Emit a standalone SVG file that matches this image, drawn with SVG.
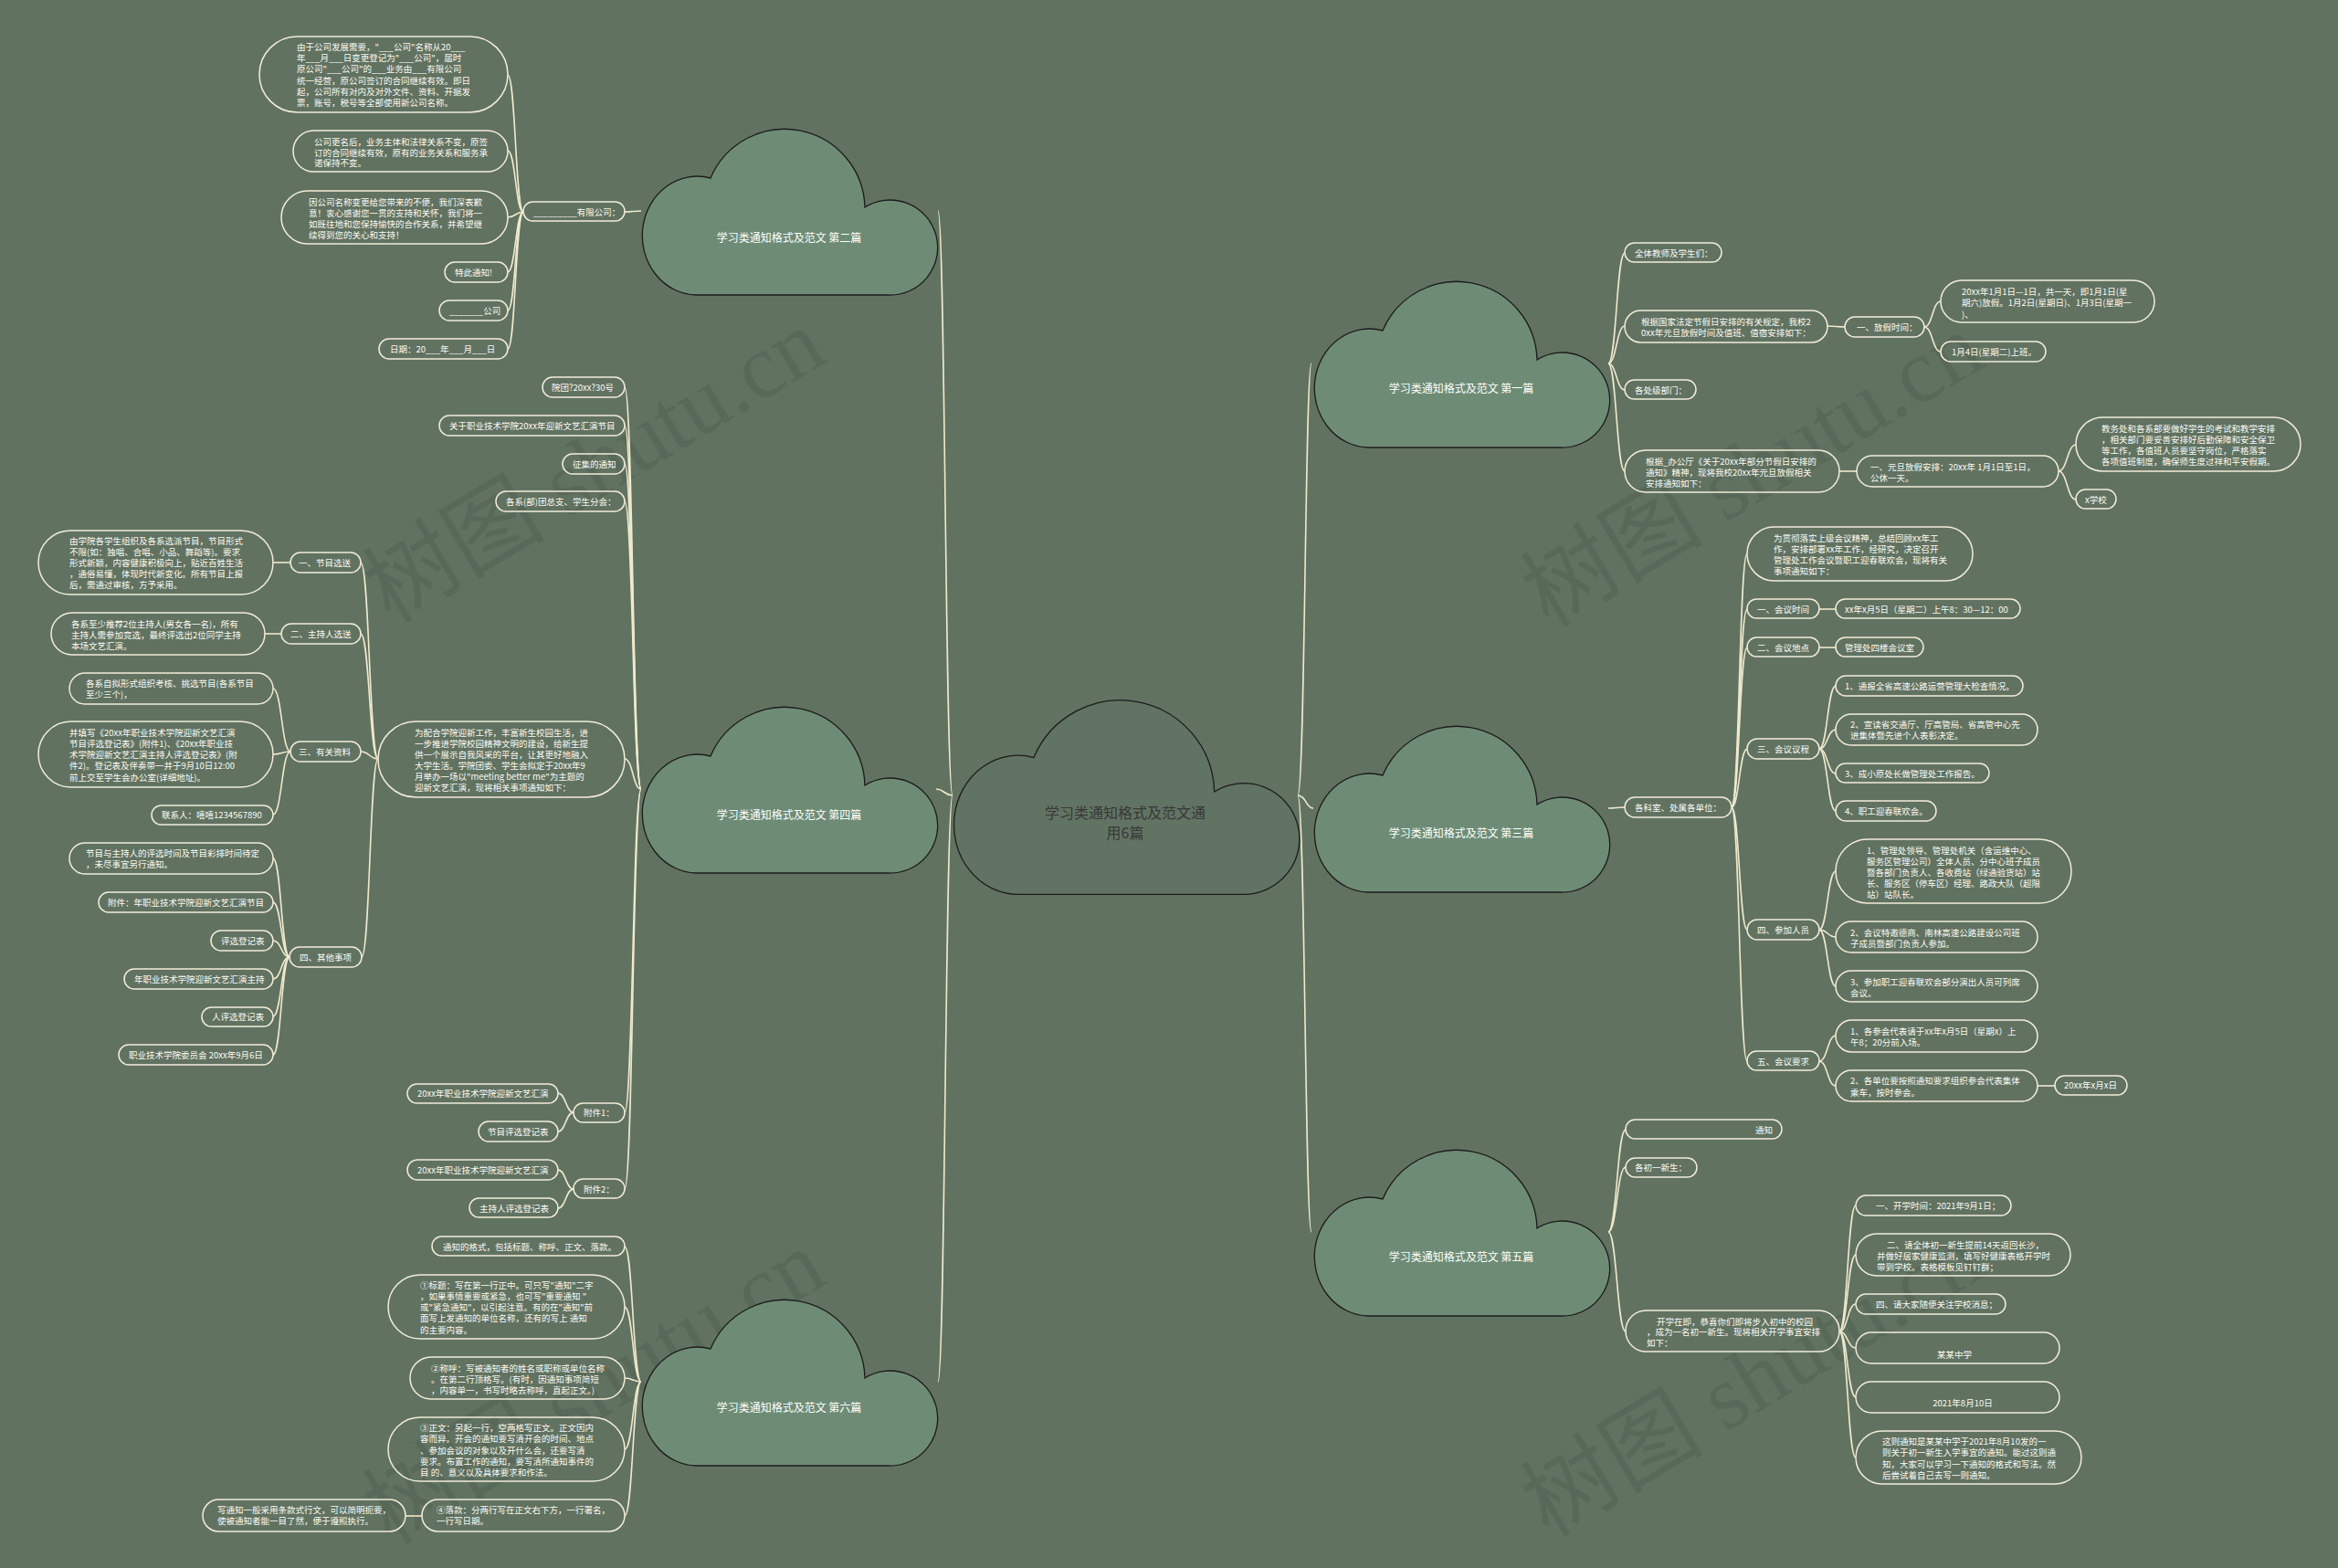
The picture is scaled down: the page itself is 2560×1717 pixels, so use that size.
<svg xmlns="http://www.w3.org/2000/svg" width="2560" height="1717" viewBox="0 0 2560 1717">
<defs>
<style>
.bg{fill:#617261}
.cl{fill:#6e8c75;stroke:#1c1c1c;stroke-width:1.3}
.cc{fill:#617362;stroke:#1c1c1c;stroke-width:1.1}
.ct{font-family:"Noto Sans CJK SC",sans-serif;font-size:12px;fill:#ffffff;text-anchor:middle}
.mt{font-family:"Noto Sans CJK SC",sans-serif;font-size:16px;fill:#383838;text-anchor:middle}
.n{fill:none;stroke:#f1edd9;stroke-width:1.5}
.t{font-family:"Noto Sans CJK SC",sans-serif;font-size:9.5px;fill:#fbfaf3}
.tm{text-anchor:middle}
.e{fill:none;stroke:#efe9cd;stroke-width:1.6}
.wm{font-family:"Liberation Serif","Noto Sans CJK SC",serif;font-size:100px;fill:#000000;fill-opacity:0.08;text-anchor:middle}
</style>
<path id="cloud" d="M60 184A60 65 0 1 1 76 56A88 88 0 0 1 245 88A52 52 0 1 1 271 184Z"/>
</defs>
<rect class="bg" x="0" y="0" width="2560" height="1717"/>

<g id="watermarks">
<text class="wm" transform="translate(650 509) rotate(-31)" y="35">树图 shutu.cn</text>
<text class="wm" transform="translate(1918 514) rotate(-31)" y="35">树图 shutu.cn</text>
<text class="wm" transform="translate(650 1518) rotate(-31)" y="35">树图 shutu.cn</text>
<text class="wm" transform="translate(1918 1510) rotate(-31)" y="35">树图 shutu.cn</text>
</g>

<g id="connectors">
<path class="e" d="M1043 871C1035 871 1035 231 1027 231"/>
<path class="e" d="M1043 871C1034 871 1034 864 1025 864"/>
<path class="e" d="M1043 871C1035 871 1035 1513 1027 1513"/>
<path class="e" d="M1421 871C1429 871 1429 398 1436 398"/>
<path class="e" d="M1421 871C1430 871 1430 885 1438 885"/>
<path class="e" d="M1421 871C1429 871 1429 1349 1436 1349"/>

<path class="e" d="M702 231C693 231 693 232 684 232"/>
<path class="e" d="M573 232C564.5 232 564.5 82 556 82"/>
<path class="e" d="M573 232C564.5 232 564.5 165 556 165"/>
<path class="e" d="M573 232C564.5 232 564.5 238 556 238"/>
<path class="e" d="M573 232C564.5 232 564.5 298 556 298"/>
<path class="e" d="M573 232C564.5 232 564.5 340 556 340"/>
<path class="e" d="M573 232C564.5 232 564.5 382 556 382"/>

<path class="e" d="M702 864C693 864 693 424 684 424"/>
<path class="e" d="M702 864C693 864 693 466 684 466"/>
<path class="e" d="M702 864C693 864 693 508 684 508"/>
<path class="e" d="M702 864C693 864 693 549 684 549"/>
<path class="e" d="M702 864C693 864 693 831 684 831"/>
<path class="e" d="M702 864C693 864 693 1218 684 1218"/>
<path class="e" d="M702 864C693 864 693 1302 684 1302"/>
<path class="e" d="M414 831C404.5 831 404.5 616 395 616"/>
<path class="e" d="M414 831C404.5 831 404.5 694 395 694"/>
<path class="e" d="M414 831C404.5 831 404.5 823 395 823"/>
<path class="e" d="M414 831C405 831 405 1048 396 1048"/>
<path class="e" d="M318 616C308.5 616 308.5 616 299 616"/>
<path class="e" d="M308 694C299 694 299 694 290 694"/>
<path class="e" d="M318 823C308.5 823 308.5 754 299 754"/>
<path class="e" d="M318 823C308.5 823 308.5 826 299 826"/>
<path class="e" d="M318 823C308.5 823 308.5 892 299 892"/>
<path class="e" d="M317 1048C308 1048 308 940 299 940"/>
<path class="e" d="M317 1048C308 1048 308 988 299 988"/>
<path class="e" d="M317 1048C308 1048 308 1030 299 1030"/>
<path class="e" d="M317 1048C308 1048 308 1072 299 1072"/>
<path class="e" d="M317 1048C308 1048 308 1113 299 1113"/>
<path class="e" d="M317 1048C308 1048 308 1155 299 1155"/>
<path class="e" d="M628 1218C619.5 1218 619.5 1197 611 1197"/>
<path class="e" d="M628 1218C619.5 1218 619.5 1239 611 1239"/>
<path class="e" d="M628 1302C619.5 1302 619.5 1281 611 1281"/>
<path class="e" d="M628 1302C619.5 1302 619.5 1323 611 1323"/>

<path class="e" d="M702 1513C693 1513 693 1365 684 1365"/>
<path class="e" d="M702 1513C693 1513 693 1431 684 1431"/>
<path class="e" d="M702 1513C693 1513 693 1509 684 1509"/>
<path class="e" d="M702 1513C693 1513 693 1587 684 1587"/>
<path class="e" d="M702 1513C693 1513 693 1660 684 1660"/>
<path class="e" d="M462 1660C453 1660 453 1660 444 1660"/>

<path class="e" d="M1761 398C1770 398 1770 277 1779 277"/>
<path class="e" d="M1761 398C1770 398 1770 357 1779 357"/>
<path class="e" d="M1761 398C1770 398 1770 427 1779 427"/>
<path class="e" d="M1761 398C1770 398 1770 516 1779 516"/>
<path class="e" d="M2001 357C2010.5 357 2010.5 358 2020 358"/>
<path class="e" d="M2107 358C2116 358 2116 330 2125 330"/>
<path class="e" d="M2107 358C2116 358 2116 385 2125 385"/>
<path class="e" d="M2014 516C2023.5 516 2023.5 516 2033 516"/>
<path class="e" d="M2254 516C2263.5 516 2263.5 487 2273 487"/>
<path class="e" d="M2254 516C2263.5 516 2263.5 547 2273 547"/>

<path class="e" d="M1761 885C1770 885 1770 884 1779 884"/>
<path class="e" d="M1896 884C1904.5 884 1904.5 606 1913 606"/>
<path class="e" d="M1896 884C1904.5 884 1904.5 667 1913 667"/>
<path class="e" d="M1896 884C1904.5 884 1904.5 709 1913 709"/>
<path class="e" d="M1896 884C1904.5 884 1904.5 820 1913 820"/>
<path class="e" d="M1896 884C1904.5 884 1904.5 1018 1913 1018"/>
<path class="e" d="M1896 884C1904.5 884 1904.5 1162 1913 1162"/>
<path class="e" d="M1992 667C2001 667 2001 667 2010 667"/>
<path class="e" d="M1992 709C2001 709 2001 709 2010 709"/>
<path class="e" d="M1992 820C2001 820 2001 751 2010 751"/>
<path class="e" d="M1992 820C2001 820 2001 799 2010 799"/>
<path class="e" d="M1992 820C2001 820 2001 847 2010 847"/>
<path class="e" d="M1992 820C2001 820 2001 888 2010 888"/>
<path class="e" d="M1992 1018C2001 1018 2001 954 2010 954"/>
<path class="e" d="M1992 1018C2001 1018 2001 1026 2010 1026"/>
<path class="e" d="M1992 1018C2001 1018 2001 1080 2010 1080"/>
<path class="e" d="M1992 1162C2001 1162 2001 1134 2010 1134"/>
<path class="e" d="M1992 1162C2001 1162 2001 1189 2010 1189"/>
<path class="e" d="M2231 1189C2240.5 1189 2240.5 1189 2250 1189"/>

<path class="e" d="M1761 1349C1770.5 1349 1770.5 1237 1780 1237"/>
<path class="e" d="M1761 1349C1770.5 1349 1770.5 1278 1780 1278"/>
<path class="e" d="M1761 1349C1770.5 1349 1770.5 1458 1780 1458"/>
<path class="e" d="M2014 1458C2023 1458 2023 1320 2032 1320"/>
<path class="e" d="M2014 1458C2023 1458 2023 1374 2032 1374"/>
<path class="e" d="M2014 1458C2023 1458 2023 1428 2032 1428"/>
<path class="e" d="M2014 1458C2023 1458 2023 1476 2032 1476"/>
<path class="e" d="M2014 1458C2023 1458 2023 1530 2032 1530"/>
<path class="e" d="M2014 1458C2023 1458 2023 1596 2032 1596"/>
</g>

<g id="center">
<use href="#cloud" class="cc" transform="translate(1043 764) scale(1.17)"/>
<text class="mt" x="1232" y="896">学习类通知格式及范文通</text>
<text class="mt" x="1232" y="918">用6篇</text>
</g>

<g id="cloud-2"><use href="#cloud" class="cl" transform="translate(702 139)"/><text class="ct" x="864" y="265">学习类通知格式及范文 第二篇</text></g>
<g id="cloud-4"><use href="#cloud" class="cl" transform="translate(702 772)"/><text class="ct" x="864" y="897">学习类通知格式及范文 第四篇</text></g>
<g id="cloud-6"><use href="#cloud" class="cl" transform="translate(702 1421)"/><text class="ct" x="864" y="1546">学习类通知格式及范文 第六篇</text></g>
<g id="cloud-1"><use href="#cloud" class="cl" transform="translate(1438 306)"/><text class="ct" x="1600" y="430">学习类通知格式及范文 第一篇</text></g>
<g id="cloud-3"><use href="#cloud" class="cl" transform="translate(1438 793)"/><text class="ct" x="1600" y="917">学习类通知格式及范文 第三篇</text></g>
<g id="cloud-5"><use href="#cloud" class="cl" transform="translate(1438 1257)"/><text class="ct" x="1600" y="1381">学习类通知格式及范文 第五篇</text></g>

<!-- 第二篇 -->
<g id="l2-0"><rect class="n" x="573" y="221" width="111" height="21" rx="10.5"/><text class="t" x="584" y="235.5">_________有限公司：</text></g>
<g id="l2-1"><rect class="n" x="284" y="40" width="272" height="83" rx="41.5"/><text class="t"><tspan x="325" y="55">由于公司发展需要，"___公司"名称从20___</tspan><tspan x="325" y="67.2">年___月___日变更登记为"___公司"，届时</tspan><tspan x="325" y="79.4">原公司"___公司"的___业务由___有限公司</tspan><tspan x="325" y="91.6">统一经营，原公司签订的合同继续有效。即日</tspan><tspan x="325" y="103.8">起，公司所有对内及对外文件、资料、开据发</tspan><tspan x="325" y="116">票，账号，税号等全部使用新公司名称。</tspan></text></g>
<g id="l2-2"><rect class="n" x="321" y="143" width="235" height="45" rx="22.5"/><text class="t"><tspan x="344" y="158.5">公司更名后，业务主体和法律关系不变，原签</tspan><tspan x="344" y="170.5">订的合同继续有效，原有的业务关系和服务承</tspan><tspan x="344" y="182">诺保持不变。</tspan></text></g>
<g id="l2-3"><rect class="n" x="308" y="209" width="248" height="58" rx="29"/><text class="t"><tspan x="338" y="224.5">因公司名称变更给您带来的不便，我们深表歉</tspan><tspan x="338" y="236.5">意！衷心感谢您一贯的支持和关怀，我们将一</tspan><tspan x="338" y="248.5">如既往地和您保持愉快的合作关系，并希望继</tspan><tspan x="338" y="260.5">续得到您的关心和支持！</tspan></text></g>
<g id="l2-4"><rect class="n" x="487" y="287" width="69" height="22" rx="11"/><text class="t" x="498" y="301.5">特此通知!</text></g>
<g id="l2-5"><rect class="n" x="481" y="329" width="75" height="22" rx="11"/><text class="t" x="492" y="343.5">_______公司</text></g>
<g id="l2-6"><rect class="n" x="415" y="371" width="141" height="22" rx="11"/><text class="t" x="427" y="385.5">日期：20___年___月___日</text></g>

<!-- 第四篇 -->
<g id="l4-a"><rect class="n" x="594" y="413" width="90" height="22" rx="11"/><text class="t" x="604" y="427.5">院团?20xx?30号</text></g>
<g id="l4-b"><rect class="n" x="481" y="455" width="203" height="22" rx="11"/><text class="t" x="492" y="469.5">关于职业技术学院20xx年迎新文艺汇演节目</text></g>
<g id="l4-c"><rect class="n" x="616" y="497" width="68" height="22" rx="11"/><text class="t" x="627" y="511.5">征集的通知</text></g>
<g id="l4-d"><rect class="n" x="543" y="538" width="141" height="22" rx="11"/><text class="t" x="554" y="552.5">各系(部)团总支、学生分会：</text></g>
<g id="l4-e"><rect class="n" x="414" y="790" width="270" height="83" rx="41.5"/><text class="t"><tspan x="454" y="805.5">为配合学院迎新工作，丰富新生校园生活，进</tspan><tspan x="454" y="817.5">一步推进学院校园精神文明的建设，给新生提</tspan><tspan x="454" y="829.5">供一个展示自我风采的平台，让其更好地融入</tspan><tspan x="454" y="841.5">大学生活。学院团委、学生会拟定于20xx年9</tspan><tspan x="454" y="853.5">月举办一场以"meeting better me"为主题的</tspan><tspan x="454" y="865.5">迎新文艺汇演，现将相关事项通知如下：</tspan></text></g>
<g id="l4-e1"><rect class="n" x="318" y="605" width="77" height="22" rx="11"/><text class="t" x="327" y="619.5">一、节目选送</text></g>
<g id="l4-e1a"><rect class="n" x="42" y="581" width="257" height="70" rx="35"/><text class="t"><tspan x="76" y="595.5">由学院各学生组织及各系选派节目，节目形式</tspan><tspan x="76" y="607.5">不限(如：独唱、合唱、小品、舞蹈等)。要求</tspan><tspan x="76" y="619.5">形式新颖，内容健康积极向上，贴近百姓生活</tspan><tspan x="76" y="631.5">，通俗易懂，体现时代新变化。所有节目上报</tspan><tspan x="76" y="643.5">后，需通过审核，方予采用。</tspan></text></g>
<g id="l4-e2"><rect class="n" x="308" y="683" width="87" height="22" rx="11"/><text class="t" x="318" y="697.5">二、主持人选送</text></g>
<g id="l4-e2a"><rect class="n" x="56" y="671" width="234" height="46" rx="23"/><text class="t"><tspan x="78" y="686.5">各系至少推荐2位主持人(男女各一名)，所有</tspan><tspan x="78" y="698.5">主持人需参加竞选，最终评选出2位同学主持</tspan><tspan x="78" y="710.5">本场文艺汇演。</tspan></text></g>
<g id="l4-e3"><rect class="n" x="318" y="812" width="77" height="22" rx="11"/><text class="t" x="327" y="826.5">三、有关资料</text></g>
<g id="l4-e3a"><rect class="n" x="76" y="737" width="223" height="34" rx="17"/><text class="t"><tspan x="94" y="751.5">各系自拟形式组织考核、挑选节目(各系节目</tspan><tspan x="94" y="764">至少三个)，</tspan></text></g>
<g id="l4-e3b"><rect class="n" x="42" y="790" width="257" height="72" rx="36"/><text class="t"><tspan x="76" y="805.5">并填写《20xx年职业技术学院迎新文艺汇演</tspan><tspan x="76" y="817.5">节目评选登记表》(附件1)、《20xx年职业技</tspan><tspan x="76" y="830">术学院迎新文艺汇演主持人评选登记表》(附</tspan><tspan x="76" y="842">件2)。登记表及伴奏带一并于9月10日12:00</tspan><tspan x="76" y="854.5">前上交至学生会办公室(详细地址)。</tspan></text></g>
<g id="l4-e3c"><rect class="n" x="166" y="882" width="133" height="21" rx="10.5"/><text class="t" x="177" y="895.5">联系人：嘻嘻1234567890</text></g>
<g id="l4-e4"><rect class="n" x="317" y="1037" width="79" height="22" rx="11"/><text class="t" x="328" y="1051.5">四、其他事项</text></g>
<g id="l4-e4a"><rect class="n" x="76" y="923" width="223" height="34" rx="17"/><text class="t"><tspan x="94" y="937.5">节目与主持人的评选时间及节目彩排时间待定</tspan><tspan x="94" y="950">，未尽事宜另行通知。</tspan></text></g>
<g id="l4-e4b"><rect class="n" x="108" y="977" width="191" height="22" rx="11"/><text class="t" x="118" y="991.5">附件：年职业技术学院迎新文艺汇演节目</text></g>
<g id="l4-e4c"><rect class="n" x="231" y="1019" width="68" height="22" rx="11"/><text class="t" x="242" y="1033.5">评选登记表</text></g>
<g id="l4-e4d"><rect class="n" x="136" y="1061" width="163" height="22" rx="11"/><text class="t" x="147" y="1075.5">年职业技术学院迎新文艺汇演主持</text></g>
<g id="l4-e4e"><rect class="n" x="221" y="1103" width="78" height="21" rx="10.5"/><text class="t" x="232" y="1116.5">人评选登记表</text></g>
<g id="l4-e4f"><rect class="n" x="130" y="1144" width="169" height="22" rx="11"/><text class="t" x="141" y="1158.5">职业技术学院委员会 20xx年9月6日</text></g>
<g id="l4-f"><rect class="n" x="628" y="1208" width="56" height="21" rx="10.5"/><text class="t" x="639" y="1221.5">附件1：</text></g>
<g id="l4-f1"><rect class="n" x="446" y="1187" width="165" height="21" rx="10.5"/><text class="t" x="457" y="1200.5">20xx年职业技术学院迎新文艺汇演</text></g>
<g id="l4-f2"><rect class="n" x="524" y="1228" width="87" height="22" rx="11"/><text class="t" x="534" y="1242.5">节目评选登记表</text></g>
<g id="l4-g"><rect class="n" x="628" y="1291" width="56" height="21" rx="10.5"/><text class="t" x="639" y="1305.5">附件2：</text></g>
<g id="l4-g1"><rect class="n" x="446" y="1270" width="165" height="22" rx="11"/><text class="t" x="457" y="1284.5">20xx年职业技术学院迎新文艺汇演</text></g>
<g id="l4-g2"><rect class="n" x="514" y="1312" width="97" height="21" rx="10.5"/><text class="t" x="525" y="1326.5">主持人评选登记表</text></g>

<!-- 第六篇 -->
<g id="l6-a"><rect class="n" x="473" y="1354" width="211" height="21" rx="10.5"/><text class="t" x="485" y="1368.5">通知的格式，包括标题、称呼、正文、落款。</text></g>
<g id="l6-b"><rect class="n" x="425" y="1396" width="259" height="70" rx="35"/><text class="t"><tspan x="460" y="1410.5">①标题：写在第一行正中。可只写"通知"二字</tspan><tspan x="460" y="1422.5">，如果事情重要或紧急，也可写"重要通知 "</tspan><tspan x="460" y="1434.5">或"紧急通知"，以引起注意。有的在"通知"前</tspan><tspan x="460" y="1447">面写上发通知的单位名称，还有的写上 通知</tspan><tspan x="460" y="1459.5">的主要内容。</tspan></text></g>
<g id="l6-c"><rect class="n" x="449" y="1486" width="235" height="46" rx="23"/><text class="t"><tspan x="472" y="1501.5">②称呼：写被通知者的姓名或职称或单位名称</tspan><tspan x="472" y="1513.5">。在第二行顶格写。(有时，因通知事项简短</tspan><tspan x="472" y="1525.5">，内容单一，书写时略去称呼，直起正文。)</tspan></text></g>
<g id="l6-d"><rect class="n" x="425" y="1552" width="259" height="70" rx="35"/><text class="t"><tspan x="460" y="1566.5">③正文：另起一行，空两格写正文。正文因内</tspan><tspan x="460" y="1579">容而异。开会的通知要写清开会的时间、地点</tspan><tspan x="460" y="1591.5">、参加会议的对象以及开什么会，还要写清</tspan><tspan x="460" y="1603.5">要求。布置工作的通知，要写清所通知事件的</tspan><tspan x="460" y="1615.5">目 的、意义以及具体要求和作法。</tspan></text></g>
<g id="l6-e"><rect class="n" x="462" y="1642" width="222" height="35" rx="17.5"/><text class="t"><tspan x="478" y="1656.5">④落款：分两行写在正文右下方，一行署名，</tspan><tspan x="478" y="1669">一行写日期。</tspan></text></g>
<g id="l6-e1"><rect class="n" x="222" y="1642" width="222" height="35" rx="17.5"/><text class="t"><tspan x="238" y="1656.5">写通知一般采用条款式行文，可以简明扼要，</tspan><tspan x="238" y="1669">使被通知者能一目了然，便于遵照执行。</tspan></text></g>

<!-- 第一篇 -->
<g id="r1-a"><rect class="n" x="1779" y="266" width="106" height="21" rx="10.5"/><text class="t" x="1790" y="280.5">全体教师及学生们：</text></g>
<g id="r1-b"><rect class="n" x="1779" y="340" width="222" height="35" rx="17.5"/><text class="t"><tspan x="1797" y="355.5">根据国家法定节假日安排的有关规定，我校2</tspan><tspan x="1797" y="367.5">0xx年元旦放假时间及值班、值宿安排如下：</tspan></text></g>
<g id="r1-b1"><rect class="n" x="2020" y="347" width="87" height="22" rx="11"/><text class="t" x="2033" y="361.5">一、放假时间：</text></g>
<g id="r1-b1a"><rect class="n" x="2125" y="307" width="234" height="46" rx="23"/><text class="t"><tspan x="2148" y="322.5">20xx年1月1日—1日，共一天，即1月1日(星</tspan><tspan x="2148" y="335">期六)放假。1月2日(星期日)、1月3日(星期一</tspan><tspan x="2148" y="347.5">)、</tspan></text></g>
<g id="r1-b1b"><rect class="n" x="2125" y="374" width="115" height="22" rx="11"/><text class="t" x="2137" y="388.5">1月4日(星期二)上班。</text></g>
<g id="r1-c"><rect class="n" x="1779" y="416" width="78" height="21" rx="10.5"/><text class="t" x="1790" y="430.5">各处级部门：</text></g>
<g id="r1-d"><rect class="n" x="1779" y="493" width="235" height="46" rx="23"/><text class="t"><tspan x="1802" y="508.5">根据_办公厅《关于20xx年部分节假日安排的</tspan><tspan x="1802" y="520.5">通知》精神，现将我校20xx年元旦放假相关</tspan><tspan x="1802" y="532.5">安排通知如下：</tspan></text></g>
<g id="r1-d1"><rect class="n" x="2033" y="499" width="221" height="34" rx="17"/><text class="t"><tspan x="2048" y="514.5">一、元旦放假安排：20xx年 1月1日至1日，</tspan><tspan x="2048" y="526.5">公休一天。</tspan></text></g>
<g id="r1-d1a"><rect class="n" x="2273" y="457" width="246" height="59" rx="29.5"/><text class="t"><tspan x="2301" y="472.5">教务处和各系部要做好学生的考试和教学安排</tspan><tspan x="2301" y="484.5">，相关部门要妥善安排好后勤保障和安全保卫</tspan><tspan x="2301" y="496.5">等工作，各值班人员要坚守岗位，严格落实</tspan><tspan x="2301" y="509">各项值班制度，确保师生度过祥和平安假期。</tspan></text></g>
<g id="r1-d1b"><rect class="n" x="2273" y="536" width="44" height="21" rx="10.5"/><text class="t" x="2283" y="550.5">x学校</text></g>

<!-- 第三篇 -->
<g id="r3-a"><rect class="n" x="1779" y="873" width="117" height="22" rx="11"/><text class="t" x="1790" y="887.5">各科室、处属各单位：</text></g>
<g id="r3-a1"><rect class="n" x="1913" y="577" width="247" height="59" rx="29.5"/><text class="t"><tspan x="1942" y="592.5">为贯彻落实上级会议精神，总结回顾xx年工</tspan><tspan x="1942" y="604.5">作，安排部署xx年工作，经研究，决定召开</tspan><tspan x="1942" y="616.5">管理处工作会议暨职工迎春联欢会，现将有关</tspan><tspan x="1942" y="629">事项通知如下：</tspan></text></g>
<g id="r3-a2"><rect class="n" x="1913" y="656" width="79" height="21" rx="10.5"/><text class="t" x="1924" y="670.5">一、会议时间</text></g>
<g id="r3-a2a"><rect class="n" x="2010" y="656" width="202" height="21" rx="10.5"/><text class="t" x="2020" y="670.5">xx年x月5日（星期二）上午8：30—12：00</text></g>
<g id="r3-a3"><rect class="n" x="1913" y="698" width="79" height="21" rx="10.5"/><text class="t" x="1924" y="712.5">二、会议地点</text></g>
<g id="r3-a3a"><rect class="n" x="2010" y="698" width="96" height="21" rx="10.5"/><text class="t" x="2020" y="712.5">管理处四楼会议室</text></g>
<g id="r3-a4"><rect class="n" x="1913" y="809" width="79" height="22" rx="11"/><text class="t" x="1924" y="823.5">三、会议议程</text></g>
<g id="r3-a4a"><rect class="n" x="2010" y="740" width="205" height="22" rx="11"/><text class="t" x="2020" y="754.5">1、通报全省高速公路运营管理大检查情况。</text></g>
<g id="r3-a4b"><rect class="n" x="2010" y="782" width="221" height="34" rx="17"/><text class="t"><tspan x="2026" y="796.5">2、宣读省交通厅、厅高管局、省高管中心先</tspan><tspan x="2026" y="809">进集体暨先进个人表彰决定。</tspan></text></g>
<g id="r3-a4c"><rect class="n" x="2010" y="836" width="168" height="21" rx="10.5"/><text class="t" x="2020" y="850.5">3、成小原处长做管理处工作报告。</text></g>
<g id="r3-a4d"><rect class="n" x="2010" y="877" width="110" height="22" rx="11"/><text class="t" x="2020" y="891.5">4、职工迎春联欢会。</text></g>
<g id="r3-a5"><rect class="n" x="1913" y="1007" width="79" height="22" rx="11"/><text class="t" x="1924" y="1021.5">四、参加人员</text></g>
<g id="r3-a5a"><rect class="n" x="2010" y="919" width="258" height="70" rx="35"/><text class="t"><tspan x="2044" y="934.5">1、管理处领导、管理处机关（含运维中心、</tspan><tspan x="2044" y="946.5">服务区管理公司）全体人员、分中心班子成员</tspan><tspan x="2044" y="958.5">暨各部门负责人、各收费站（绿通验货站）站</tspan><tspan x="2044" y="970.5">长、服务区（停车区）经理、路政大队（超限</tspan><tspan x="2044" y="982.5">站）站队长。</tspan></text></g>
<g id="r3-a5b"><rect class="n" x="2010" y="1009" width="221" height="34" rx="17"/><text class="t"><tspan x="2026" y="1024.5">2、会议特邀德商、南林高速公路建设公司班</tspan><tspan x="2026" y="1036.5">子成员暨部门负责人参加。</tspan></text></g>
<g id="r3-a5c"><rect class="n" x="2010" y="1063" width="221" height="34" rx="17"/><text class="t"><tspan x="2026" y="1078.5">3、参加职工迎春联欢会部分演出人员可列席</tspan><tspan x="2026" y="1090.5">会议。</tspan></text></g>
<g id="r3-a6"><rect class="n" x="1913" y="1151" width="79" height="21" rx="10.5"/><text class="t" x="1924" y="1165.5">五、会议要求</text></g>
<g id="r3-a6a"><rect class="n" x="2010" y="1117" width="221" height="35" rx="17.5"/><text class="t"><tspan x="2026" y="1132.5">1、各参会代表请于xx年x月5日（星期x）上</tspan><tspan x="2026" y="1144.5">午8；20分前入场。</tspan></text></g>
<g id="r3-a6b"><rect class="n" x="2010" y="1172" width="221" height="34" rx="17"/><text class="t"><tspan x="2026" y="1186.5">2、各单位要按照通知要求组织参会代表集体</tspan><tspan x="2026" y="1199.5">乘车，按时参会。</tspan></text></g>
<g id="r3-a6b1"><rect class="n" x="2250" y="1178" width="79" height="21" rx="10.5"/><text class="t" x="2260" y="1191.5">20xx年x月x日</text></g>

<!-- 第五篇 -->
<g id="r5-a"><rect class="n" x="1780" y="1226" width="171" height="21" rx="10.5"/><text class="t" x="1922" y="1240.5">通知</text></g>
<g id="r5-b"><rect class="n" x="1780" y="1268" width="78" height="21" rx="10.5"/><text class="t" x="1790" y="1281.5">各初一新生：</text></g>
<g id="r5-c"><rect class="n" x="1780" y="1435" width="234" height="45" rx="22.5"/><text class="t"><tspan x="1814" y="1450.5">开学在即，恭喜你们即将步入初中的校园</tspan><tspan x="1803" y="1461.5">，成为一名初一新生。现将相关开学事宜安排</tspan><tspan x="1803" y="1473.5">如下：</tspan></text></g>
<g id="r5-c1"><rect class="n" x="2032" y="1309" width="170" height="22" rx="11"/><text class="t" x="2054" y="1323.5">一、开学时间：2021年9月1日；</text></g>
<g id="r5-c2"><rect class="n" x="2032" y="1351" width="235" height="46" rx="23"/><text class="t"><tspan x="2066" y="1366.5">二、请全体初一新生提前14天返回长沙，</tspan><tspan x="2055" y="1378.5">并做好居家健康监测，填写好健康表格开学时</tspan><tspan x="2055" y="1390.5">带到学校。表格模板见钉钉群；</tspan></text></g>
<g id="r5-c3"><rect class="n" x="2032" y="1417" width="164" height="22" rx="11"/><text class="t" x="2054" y="1431.5">四、请大家随便关注学校消息；</text></g>
<g id="r5-c4"><rect class="n" x="2032" y="1459" width="223" height="34" rx="17"/><text class="t tm" x="2140" y="1486.5">某某中学</text></g>
<g id="r5-c5"><rect class="n" x="2032" y="1513" width="223" height="34" rx="17"/><text class="t tm" x="2149" y="1539.5">2021年8月10日</text></g>
<g id="r5-c6"><rect class="n" x="2032" y="1567" width="247" height="58" rx="29"/><text class="t"><tspan x="2061" y="1581.5">这则通知是某某中学于2021年8月10发的一</tspan><tspan x="2061" y="1594">则关于初一新生入学事宜的通知。能过这则通</tspan><tspan x="2061" y="1606.5">知，大家可以学习一下通知的格式和写法。然</tspan><tspan x="2061" y="1619">后尝试着自己去写一则通知。</tspan></text></g>
</svg>
